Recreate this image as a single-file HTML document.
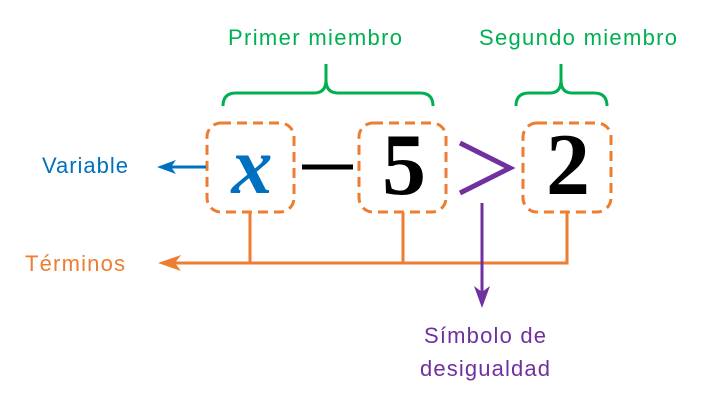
<!DOCTYPE html>
<html><head><meta charset="utf-8"><style>html,body{margin:0;padding:0;background:#fff}</style></head>
<body>
<svg width="727" height="403" viewBox="0 0 727 403" xmlns="http://www.w3.org/2000/svg" font-family="Liberation Sans, sans-serif">
<rect width="727" height="403" fill="#fff"/>
<g fill="#00b050" font-size="22">
<text x="315" y="45" text-anchor="middle" textLength="174">Primer miembro</text>
<text x="578" y="45" text-anchor="middle" textLength="198">Segundo miembro</text>
</g>
<g fill="none" stroke="#00b050" stroke-width="3">
<path d="M223 106 Q223 93 236 93 L314 93 Q326 93 326 80 L326 64 M326 80 Q326 93 338 93 L420 93 Q433 93 433 106"/>
<path d="M516 106 Q516 93 529 93 L550 93 Q561 93 561 80 L561 64 M561 80 Q561 93 572 93 L594 93 Q607 93 607 106"/>
</g>
<g fill="none" stroke="#ed7d31" stroke-width="3" stroke-dasharray="10 6">
<rect x="207" y="123" width="87" height="89" rx="14"/>
<rect x="359" y="123" width="87" height="89" rx="14"/>
<rect x="523" y="123" width="88" height="89" rx="14"/>
</g>
<text x="252" y="193" text-anchor="middle" font-family="Liberation Serif, serif" font-style="italic" font-weight="bold" font-size="82" fill="#0070c0">x</text>
<line x1="302" y1="167" x2="353" y2="167" stroke="#000" stroke-width="5"/>
<text x="404" y="194" text-anchor="middle" font-family="Liberation Serif, serif" font-weight="bold" font-size="88" fill="#000">5</text>
<text x="568" y="194" text-anchor="middle" font-family="Liberation Serif, serif" font-weight="bold" font-size="88" fill="#000">2</text>
<polyline points="460,143 510,168 460,193" fill="none" stroke="#7030a0" stroke-width="5"/>
<line x1="206" y1="167" x2="168" y2="167" stroke="#0070c0" stroke-width="3"/>
<path d="M157 167 L176 160 L171 167 L176 174 Z" fill="#0070c0"/>
<text x="85" y="173" text-anchor="middle" fill="#0070c0" font-size="22" textLength="86">Variable</text>
<g stroke="#ed7d31" stroke-width="3" fill="none">
<path d="M250 212 V263 M403 212 V263 M567 212 V263 H172"/>
</g>
<path d="M158 263 L181 255 L175 263 L181 271 Z" fill="#ed7d31"/>
<text x="75" y="271" text-anchor="middle" fill="#ed7d31" font-size="22" textLength="100">Términos</text>
<line x1="482" y1="203" x2="482" y2="296" stroke="#7030a0" stroke-width="3"/>
<path d="M482 308 L474 286 L482 292 L490 286 Z" fill="#7030a0"/>
<g fill="#7030a0" font-size="22" text-anchor="middle">
<text x="485" y="343" textLength="122">Símbolo de</text>
<text x="485" y="376" textLength="130">desigualdad</text>
</g>
</svg>
</body></html>
